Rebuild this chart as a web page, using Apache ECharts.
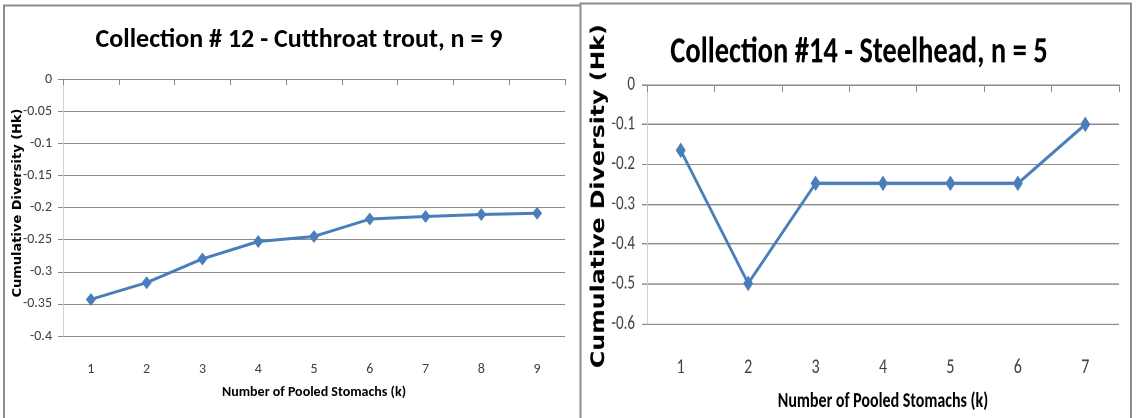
<!DOCTYPE html>
<html>
<head>
<meta charset="utf-8">
<script src="https://cdn.jsdelivr.net/npm/echarts@6/dist/echarts.min.js"></script>
<style>
html,body{margin:0;padding:0;background:#fff;overflow:hidden;}
#wrap{position:relative;width:1136px;height:418px;}
#a{position:absolute;left:0;top:0;width:1136px;height:418px;}
#b{position:absolute;left:0;top:0;width:1136px;height:322px;transform:scaleY(1.3);transform-origin:0 0;}
</style>
</head>
<body>
<div id="wrap"><div id="a"></div><div id="b"></div></div>
<script>
// ---- data ----
var leftTitle = 'Collection # 12 - Cutthroat trout, n = 9';
var rightTitle = 'Collection #14 - Steelhead, n = 5';
var yAxisName = 'Cumulative Diversity (Hk)';
var xAxisName = 'Number of Pooled Stomachs (k)';
var leftCategories = ['1','2','3','4','5','6','7','8','9'];
var leftValues = [-0.343, -0.317, -0.280, -0.253, -0.245, -0.218, -0.214, -0.211, -0.209];
var rightCategories = ['1','2','3','4','5','6','7'];
var rightValues = [-0.165, -0.499, -0.248, -0.248, -0.248, -0.248, -0.100];

var FONT = "Carlito, 'Liberation Sans', sans-serif";
var YFONT = "'DejaVu Sans', Verdana, sans-serif";
var LINE = '#4a7ebb';
var GRID = '#8a8a8a';
var BORDER = '#8c8c8c';
var LABEL = '#404040';

function yAxis(min, interval, fs, margin) {
  return {
    type: 'value', min: min, max: 0, interval: interval,
    axisLine: {show: true, lineStyle: {color: '#d0d0d0', width: 1}},
    axisTick: {show: true, length: 5, lineStyle: {color: GRID}},
    axisLabel: {fontFamily: FONT, fontSize: fs, color: LABEL, margin: margin},
    splitLine: {show: true, lineStyle: {color: GRID, width: 1}}
  };
}
function xAxis(cats, fs, nameFs, gap, margin) {
  return {
    type: 'category', data: cats, boundaryGap: true,
    name: xAxisName, nameLocation: 'middle', nameGap: gap,
    nameTextStyle: {fontFamily: FONT, fontWeight: 'bold', fontSize: nameFs, color: '#000'},
    axisLine: {show: true, lineStyle: {color: GRID, width: 1}},
    axisTick: {show: true, length: 6, lineStyle: {color: GRID}},
    axisLabel: {fontFamily: FONT, fontSize: fs, color: LABEL, margin: margin},
    splitLine: {show: false}
  };
}
function yName(x, y, fs) {
  return {type: 'text', x: x, y: y, rotation: Math.PI / 2, z: 5,
    style: {text: yAxisName, font: 'bold ' + fs + 'px ' + YFONT, fill: '#000',
      textAlign: 'center', textVerticalAlign: 'middle'}};
}

// Left panel (also draws both panel frames)
var chartA = echarts.init(document.getElementById('a'), null, {renderer: 'canvas'});
chartA.setOption({
  animation: false,
  backgroundColor: '#fff',
  title: {text: leftTitle, left: 294, top: 22, textAlign: 'center',
    textStyle: {fontFamily: FONT, fontWeight: 'bold', fontSize: 26, color: '#000'}},
  grid: {left: 63, right: 1136 - 565, top: 79, bottom: 418 - 336},
  xAxis: xAxis(leftCategories, 14, 14, 49, 26),
  yAxis: yAxis(-0.4, 0.05, 14, 11),
  series: [{type: 'line', data: leftValues,
    symbol: 'diamond', symbolSize: [10, 13], lineStyle: {color: LINE, width: 3},
    itemStyle: {color: LINE}}],
  graphic: [
    yName(17.5, 203, 13),
    {type: 'polyline', shape: {points: [[4, 418], [4, 5.5], [580, 5.5]]},
     style: {stroke: BORDER, lineWidth: 2, fill: null}, z: 10},
    {type: 'polyline', shape: {points: [[580.5, 418], [580.5, 3.5], [1131, 3.5], [1131, 418]]},
     style: {stroke: BORDER, lineWidth: 2, fill: null}, z: 10}
  ]
});

// Right panel: drawn in a box that is stretched vertically, like the reference
var chartB = echarts.init(document.getElementById('b'), null, {renderer: 'canvas', devicePixelRatio: 2});
chartB.setOption({
  animation: false,
  backgroundColor: 'transparent',
  title: {text: rightTitle, left: 854, top: 21.5, textAlign: 'center',
    textStyle: {fontFamily: FONT, fontWeight: 'bold', fontSize: 28.5, color: '#000'}},
  grid: {left: 647, right: 1136 - 1119, top: 65, bottom: 70.5},
  xAxis: xAxis(rightCategories, 16, 16, 52, 26),
  yAxis: yAxis(-0.6, 0.1, 15, 12),
  series: [{type: 'line', data: rightValues,
    symbol: 'diamond', symbolSize: [10, 12], lineStyle: {color: LINE, width: 2.6},
    itemStyle: {color: LINE}}],
  graphic: [yName(599.5, 150.8, 18.2)]
});
</script>
</body>
</html>
